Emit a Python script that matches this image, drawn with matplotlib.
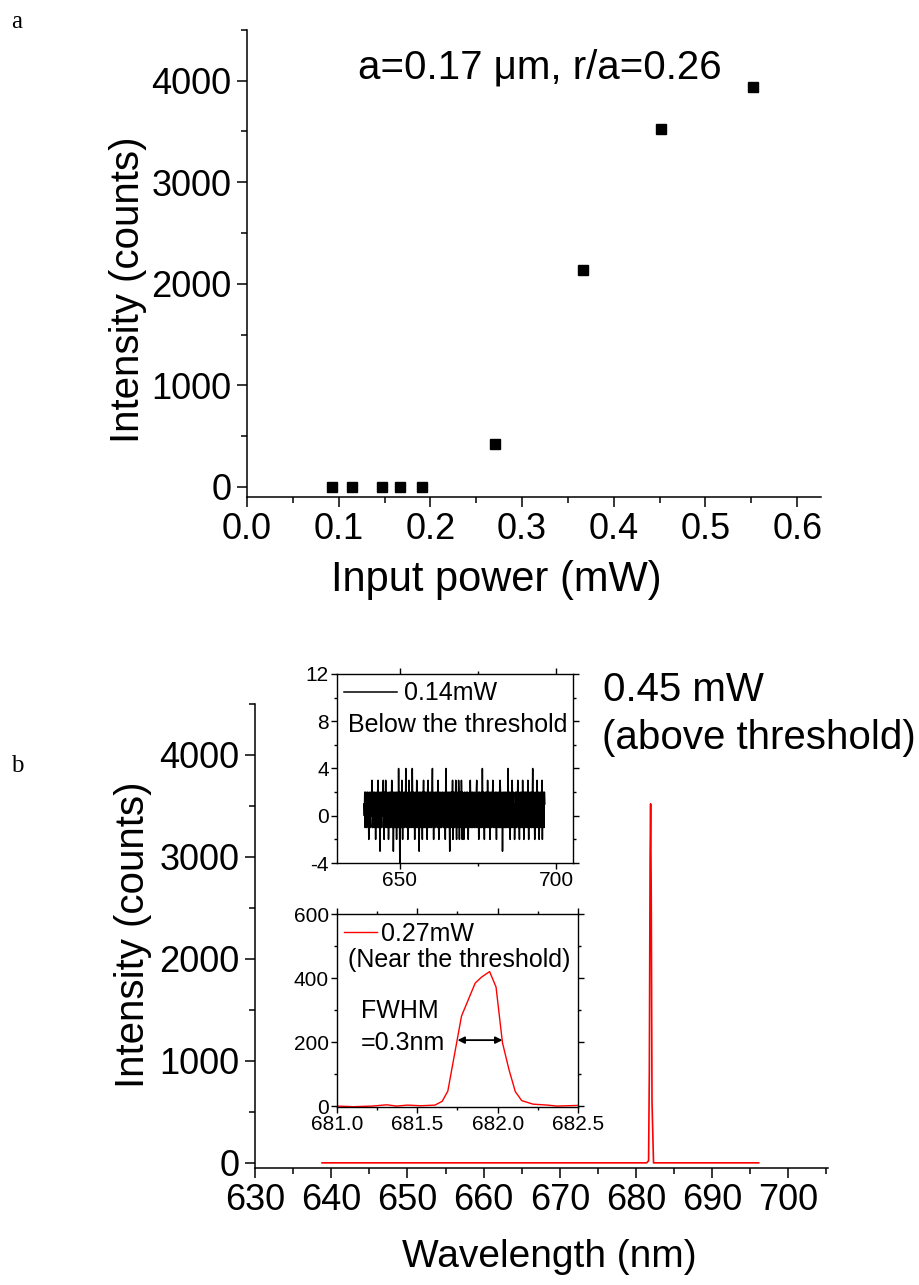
import numpy as np
import matplotlib
matplotlib.use('Agg')
import matplotlib.pyplot as plt
from matplotlib.ticker import MultipleLocator, FormatStrFormatter

plt.rcParams['font.family'] = ['Liberation Sans', 'DejaVu Sans']
plt.rcParams['axes.linewidth'] = 1.1
plt.rcParams['axes.unicode_minus'] = False

# panel a: output intensity vs pump power
power_mw = [0.093, 0.114, 0.147, 0.167, 0.191, 0.270, 0.366, 0.452, 0.552]
intensity = [0, 0, 0, 0, 0, 420, 2140, 3520, 3940]

# panel b: spectrum at 0.45 mW
wl_main = [638.8, 681.4, 681.65, 681.75, 681.85, 681.92, 682.0, 682.1, 682.3, 696.1]
cnt_main = [0, 0, 20, 900, 3000, 3520, 2600, 600, 0, 0]

# inset 1: 0.14 mW, below threshold (noise)
noise_start, noise_end = 638.6, 696.3
noise = [1, 0, 2, -1, 1, 2, 0, -1, 1, 2, 0, 1, -2, 2, 0, 1, -1, 2, 1, 0, 3, -1, 0, 2, 1,
         -1, 2, 0, 1, -2, 2, 1, 0, -1, 2, 3, -1, 0, 2, 1, -3, 1, 2, 0, -1, 2, 1, 0, 3, -1,
         -2, 2, 1, 0, 3, -1, 2, 0, 1, -1, 2, -2, 1, 0, 2, -1, 1, 2, 0, 3, -1, 1, 2, -3, 0,
         2, 1, -1, 0, 2, 1, -2, 2, 0, 1, -1, 4, 0, 2, -4, 1, 2, 0, -1, 3, 1, -2, 2, 0, 1,
         -1, 2, 1, 0, 4, -1, 2, 0, 1, -2, 2, 1, 3, -1, 0, 2, 1, -1, 2, 0, 4, 1, -1, 2, 0,
         1, -2, 2, 0, 1, -1, 3, 2, 0, -1, 1, 2, -3, 0, 2, 1, -1, 2, 0, 1, -2, 2, 1, 3, -1,
         0, 2, 1, -1, 2, 0, 1, -2, 2, 3, -1, 0, 2, 1, -1, 2, 0, 1, -1, 2, 4, 0, 1, -2, 2,
         1, 0, -1, 2, 1, 0, 2, -1, 1, 3, 0, -2, 2, 1, 0, -1, 2, 1, -1, 0, 2, 1, 0, -1, 2,
         0, 1, -2, 2, 4, -1, 1, 0, 2, -1, 1, 2, 0, -3, 2, 1, -1, 2, 0, 1, 3, -2, 2, 0, 1,
         -1, 2, 1, 3, 0, -2, 2, 1, -1, 0, 3, 2, -2, 1, 0, 2, -1, 3, 1, -2, 2, 0, 1, -2, 1,
         2, 0, -1, 1, 2, -1, 0, 2, 1, -2, 1, 0, 2, -1, 3, 1, 0, -1, 2, 1, -1, 2, 0, 1, -1,
         2, 1, 0, -1, 2, 3, -1, 1, 0, 2, -2, 1, 2, 0, -1, 1, 2, -1, 0, 4, 1, -1, 2, 0, -2,
         1, 2, -1, 0, 2, 1, -1, 3, 0, 1, -1, 2, 0, -2, 1, 2, -1, 0, 2, 1, 3, -1, 0, 2, 1,
         -1, 0, 2, 1, -2, 2, 0, 1, -1, 2, 1, 0, -1, 3, 2, -1, 0, 1, 2, -3, 1, 0, 2, -1, 1,
         2, 0, -1, 2, 1, -1, 0, 2, 4, -1, 1, 2, 0, -2, 1, 2, -1, 0, 3, 1, -1, 2, 0, 1, -2,
         0, 2, 1, -1, 2, 0, 1, 3, -1, 2, 0, -2, 1, 2, -1, 1, 0, 2, -1, 3, 0, 1, -2, 2, 1,
         -1, 2, 0, 1, 2, -1, 0, 3, 1, -2, 2, 0, -1, 1, 2, 0, -1, 2, 1, 4, -1, 0, 2, 1, -2,
         1, 0, 2, -1, 1, 3, 0, -1, 2, 1, -2, 0, 2, 1, -1, 2, 0, 3, -2, 1, 2, 0, -1, 2, 1]
wl_noise = np.linspace(noise_start, noise_end, len(noise))

# inset 2: 0.27 mW, near threshold
wl_near = [681.0, 681.1, 681.22, 681.31, 681.37, 681.44, 681.52, 681.61, 681.655, 681.69,
           681.775, 681.86, 681.90, 681.95, 681.99, 682.03, 682.07, 682.11, 682.15, 682.22,
           682.31, 682.37, 682.5]
cnt_near = [0, -2, 0, 4, 0, 3, 1, 3, 15, 47, 281, 384, 403, 420, 372, 198, 115, 45, 17, 6,
            3, 0, 2]
fwhm_left, fwhm_right, half_max = 681.75, 682.03, 206

fig = plt.figure(figsize=(9.19, 12.85), dpi=100)

# ---- panel a ----
ax1 = fig.add_axes([0.2688, 0.6132, 0.6246, 0.3635])
ax1.plot(power_mw, intensity, 's', color='black', markersize=7)
ax1.set_xlim(0, 0.626)
ax1.set_ylim(-100, 4500)
ax1.xaxis.set_major_locator(MultipleLocator(0.1))
ax1.xaxis.set_minor_locator(MultipleLocator(0.05))
ax1.xaxis.set_major_formatter(FormatStrFormatter('%.1f'))
ax1.yaxis.set_major_locator(MultipleLocator(1000))
ax1.yaxis.set_minor_locator(MultipleLocator(500))
for s in ['top', 'right']:
    ax1.spines[s].set_visible(False)
ax1.tick_params(which='major', direction='out', length=7, width=1.1, labelsize=26, pad=4)
ax1.tick_params(which='minor', direction='out', length=4, width=1.1)
ax1.set_xlabel('Input power (mW)', fontsize=30)
ax1.set_ylabel('Intensity (counts)', fontsize=29)
ax1.xaxis.set_label_coords(0.434, -0.135)
ax1.yaxis.set_label_coords(-0.175, 0.443)
ax1.text(0.51, 0.92, 'a=0.17 \u03bcm, r/a=0.26', transform=ax1.transAxes,
         fontsize=29, ha='center', va='center')

# ---- panel b ----
ax2 = fig.add_axes([0.2775, 0.0911, 0.6235, 0.3611])
ax2.plot(wl_main, cnt_main, color='red', lw=1.2)
ax2.set_xlim(630, 705.2)
ax2.set_ylim(-50, 4500)
ax2.xaxis.set_major_locator(MultipleLocator(10))
ax2.xaxis.set_minor_locator(MultipleLocator(5))
ax2.yaxis.set_major_locator(MultipleLocator(1000))
ax2.yaxis.set_minor_locator(MultipleLocator(500))
for s in ['top', 'right']:
    ax2.spines[s].set_visible(False)
ax2.tick_params(which='major', direction='out', length=7, width=1.1, labelsize=26, pad=4)
ax2.tick_params(which='minor', direction='out', length=4, width=1.1)
ax2.set_xlabel('Wavelength (nm)', fontsize=28)
ax2.set_ylabel('Intensity (counts)', fontsize=29)
ax2.xaxis.set_label_coords(0.513, -0.153)
ax2.yaxis.set_label_coords(-0.18, 0.502)

fig.text(0.656, 0.463, '0.45 mW', fontsize=29, ha='left', va='center')
fig.text(0.655, 0.4257, '(above threshold)', fontsize=29, ha='left', va='center')


def style_inset(ax):
    ax.tick_params(which='both', direction='out', top=True, right=True,
                   labelsize=15, width=1.0, pad=2)
    ax.tick_params(which='major', length=4)
    ax.tick_params(which='minor', length=2.5)
    for s in ax.spines.values():
        s.set_linewidth(1.0)


# ---- inset 1 ----
ax3 = fig.add_axes([0.3667, 0.3284, 0.2568, 0.1471])
ax3.plot(wl_noise, noise, color='black', lw=1.1, label='0.14mW')
ax3.set_xlim(630, 705.3)
ax3.set_ylim(-4, 12)
ax3.xaxis.set_major_locator(MultipleLocator(50))
ax3.xaxis.set_minor_locator(MultipleLocator(25))
ax3.yaxis.set_major_locator(MultipleLocator(4))
ax3.yaxis.set_minor_locator(MultipleLocator(2))
style_inset(ax3)
ax3.legend(loc='upper left', frameon=False, fontsize=18, handlelength=2.1,
           handletextpad=0.3, borderaxespad=0.1, borderpad=0.2)
ax3.text(0.045, 0.73, 'Below the threshold', transform=ax3.transAxes,
         fontsize=18, ha='left', va='center')

# ---- inset 2 ----
ax4 = fig.add_axes([0.3667, 0.1385, 0.2622, 0.1502])
ax4.plot(wl_near, cnt_near, color='red', lw=1.0, label='0.27mW')
ax4.set_xlim(681.0, 682.5)
ax4.set_ylim(-3, 600)
ax4.xaxis.set_major_locator(MultipleLocator(0.5))
ax4.xaxis.set_minor_locator(MultipleLocator(0.25))
ax4.xaxis.set_major_formatter(FormatStrFormatter('%.1f'))
ax4.yaxis.set_major_locator(MultipleLocator(200))
ax4.yaxis.set_minor_locator(MultipleLocator(100))
style_inset(ax4)
ax4.legend(loc='upper left', frameon=False, fontsize=18, handlelength=1.3,
           handletextpad=0.15, borderaxespad=0.1, borderpad=0.2)
ax4.text(0.045, 0.762, '(Near the threshold)', transform=ax4.transAxes,
         fontsize=18, ha='left', va='center')
ax4.annotate('', xy=(fwhm_left, half_max), xytext=(fwhm_right, half_max),
             arrowprops=dict(arrowstyle='<|-|>', color='black', lw=1.3,
                             mutation_scale=10, shrinkA=0, shrinkB=0))
ax4.text(0.10, 0.50, 'FWHM', transform=ax4.transAxes, fontsize=18,
         ha='left', va='center')
ax4.text(0.10, 0.33, '=0.3nm', transform=ax4.transAxes, fontsize=18,
         ha='left', va='center')

# panel letters
fig.text(0.012, 0.983, 'a', fontsize=18, family='Liberation Serif', va='center')
fig.text(0.012, 0.404, 'b', fontsize=18, family='Liberation Serif', va='center')

fig.savefig('out.png', dpi=100)
